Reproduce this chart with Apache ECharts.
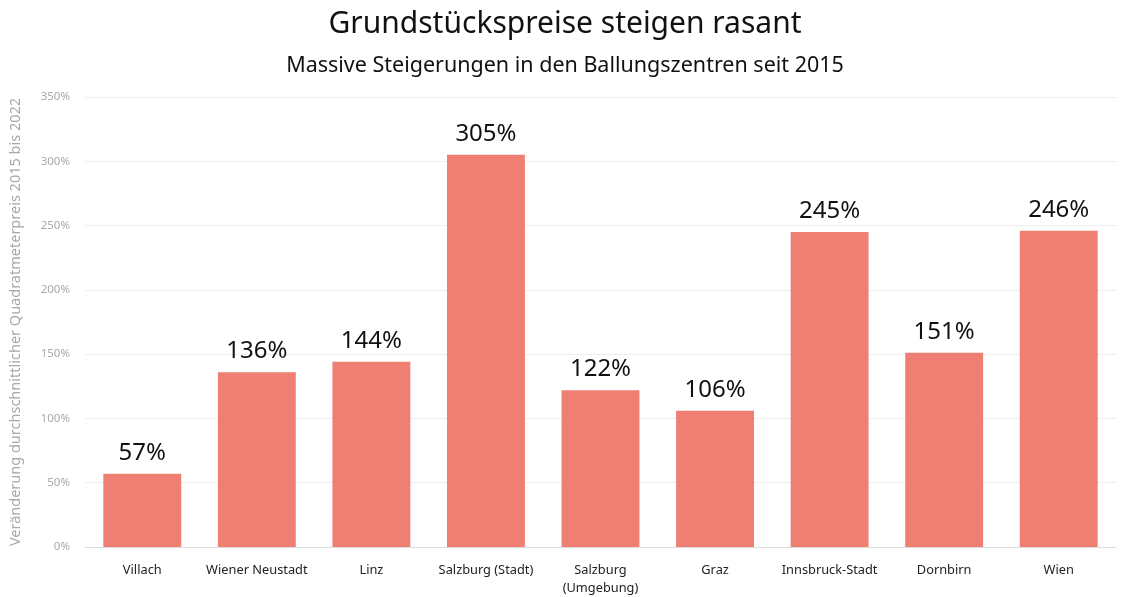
<!DOCTYPE html>
<html><head><meta charset="utf-8">
<script src="https://cdn.jsdelivr.net/npm/echarts@6/dist/echarts.min.js"></script>
<style>html,body{margin:0;padding:0;background:#fff}#c{width:1130px;height:597px}</style>
</head><body><div id="c"></div>
<script>
const categories = ["Villach","Wiener Neustadt","Linz","Salzburg (Stadt)","Salzburg\n(Umgebung)","Graz","Innsbruck-Stadt","Dornbirn","Wien"];
const values = [57,136,144,305,122,106,245,151,246];
const yTicks = [0,50,100,150,200,250,300,350];
const F = 'Noto Sans';
const chart = echarts.init(document.getElementById('c'));
chart.setOption({
  animation:false,
  textStyle:{fontFamily:F},
  title:[
    {text:'Grundstückspreise steigen rasant',left:'center',top:4,textStyle:{fontSize:30,fontWeight:'normal',color:'#111',fontFamily:F}},
    {text:'Massive Steigerungen in den Ballungszentren seit 2015',left:'center',top:50,textStyle:{fontSize:21.5,fontWeight:'normal',color:'#111',fontFamily:F}}
  ],
  grid:{left:82,right:14,top:97,bottom:44,containLabel:false},
  xAxis:{type:'category',data:categories,
    axisLine:{lineStyle:{color:'#ddd'}},axisTick:{show:false},
    axisLabel:{color:'#222',fontSize:12.8,margin:14,lineHeight:18,interval:0}},
  yAxis:{type:'value',min:0,max:350,interval:50,
    name:'Veränderung durchschnittlicher Quadratmeterpreis 2015 bis 2022',
    nameLocation:'middle',nameGap:62,nameTextStyle:{color:'#a8a8a8',fontSize:14.5},
    axisLabel:{color:'#aaa',fontSize:11.5,margin:15,formatter:v=>yTicks.includes(v)?v+'%':''},
    splitLine:{lineStyle:{color:'#eee'}},axisLine:{show:false},axisTick:{show:false}},
  series:[{type:'bar',data:values,barWidth:'68%',
    itemStyle:{color:'#EE7F72'},
    label:{show:true,position:'top',formatter:'{c}%',fontSize:24,color:'#111',distance:9}}]
});
</script></body></html>
